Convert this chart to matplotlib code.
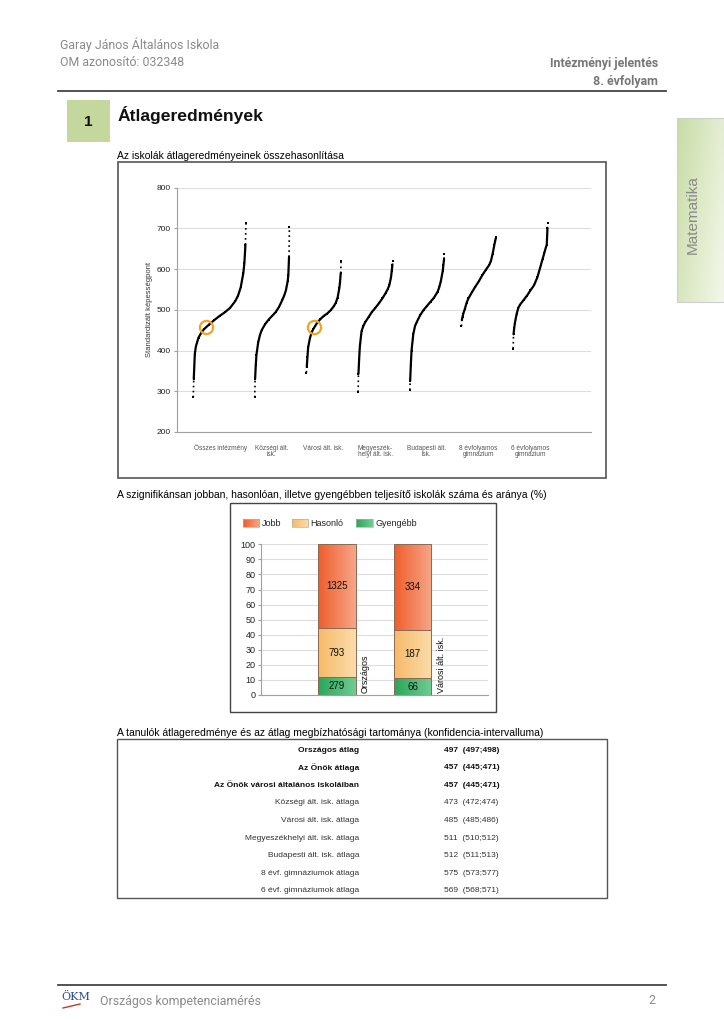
import numpy as np
import matplotlib
matplotlib.use("Agg")
import matplotlib.pyplot as plt
from matplotlib.patches import Rectangle
from matplotlib.colors import LinearSegmentedColormap

plt.rcParams['font.family'] = ['Liberation Sans', 'DejaVu Sans']

W, H = 724, 1024

# --- scatter: school averages sorted, read at percentile ranks ---
categories = ['Összes intézmény', 'Községi ált.\nisk.', 'Városi ált. isk.',
              'Megyeszék-\nhelyi ált. isk.', 'Budapesti ált.\nisk.',
              '8 évfolyamos\ngimnázium', '6 évfolyamos\ngimnázium']
percentiles = [0, 1, 3, 5, 10, 15, 20, 30, 40, 50, 60, 70, 80, 85, 90, 95, 97, 99, 100]
osszes = [285, 330, 392, 410, 432, 443, 452, 464, 475, 485, 494, 505, 522, 535, 555, 590, 615, 660, 714]
kozsegi = [285, 330, 365, 390, 420, 438, 450, 465, 476, 485, 494, 507, 525, 535, 548, 570, 585, 630, 704]
varosi = [346, 360, 385, 408, 430, 445, 453, 467, 477, 485, 491, 499, 510, 518, 530, 553, 568, 590, 620]
megyeszekhelyi = [298, 343, 380, 410, 448, 460, 469, 482, 495, 505, 516, 528, 542, 550, 560, 580, 595, 610, 621]
budapesti = [303, 325, 365, 400, 440, 460, 470, 487, 500, 510, 520, 530, 544, 555, 572, 595, 610, 625, 636]
gimn8 = [460, 475, 483, 490, 503, 518, 528, 543, 557, 570, 585, 598, 610, 620, 638, 660, 668, 676, 680]
gimn6 = [405, 440, 455, 468, 490, 505, 513, 524, 535, 548, 560, 580, 610, 625, 640, 655, 660, 700, 714]
curves = [osszes, kozsegi, varosi, megyeszekhelyi, budapesti, gimn8, gimn6]
school_mean = 457
highlight = [0, 2]

# --- stacked bars ---
bar_groups = ['Országos', 'Városi ált. isk.']
jobb = [1325, 334]
hasonlo = [793, 187]
gyengebb = [279, 66]

# --- table ---
table_labels = ['Országos átlag', 'Az Önök átlaga', 'Az Önök városi általános iskoláiban',
                'Községi ált. isk. átlaga', 'Városi ált. isk. átlaga',
                'Megyeszékhelyi ált. isk. átlaga', 'Budapesti ált. isk. átlaga',
                '8 évf. gimnáziumok átlaga', '6 évf. gimnáziumok átlaga']
table_means = [497, 457, 457, 473, 485, 511, 512, 575, 569]
ci_low = [497, 445, 445, 472, 485, 510, 511, 573, 568]
ci_high = [498, 471, 471, 474, 486, 512, 513, 577, 571]
bold_rows = 3

fig = plt.figure(figsize=(W / 100, H / 100), dpi=100)
page = fig.add_axes([0, 0, 1, 1])
page.set_xlim(0, W)
page.set_ylim(H, 0)
page.axis('off')


def px_axes(x0, y0, x1, y1):
    return fig.add_axes([x0 / W, 1 - y1 / H, (x1 - x0) / W, (y1 - y0) / H])


narrow = ['Roboto', 'DejaVu Sans']
grey = '#8a8a8a'

# header
page.text(60, 45, 'Garay János Általános Iskola', family=narrow, fontsize=8.9, color=grey, va='center')
page.text(60, 63, 'OM azonosító: 032348', family=narrow, fontsize=8.9, color=grey, va='center')
page.text(658, 63, 'Intézményi jelentés', family=narrow, fontsize=8.9, color='#777777',
          weight='bold', ha='right', va='center')
page.text(658, 81, '8. évfolyam', family=narrow, fontsize=8.9, color='#777777',
          weight='bold', ha='right', va='center')
page.plot([58, 666], [91, 91], color='#444444', lw=1.3)

# section title
page.add_patch(Rectangle((67, 100), 43, 42, facecolor='#c4d79c', edgecolor='none'))
page.text(88.5, 122, '1', fontsize=11, weight='bold', ha='center', va='center', color='#111111')
page.text(118, 115, 'Átlageredmények', fontsize=12.6, weight='bold', va='center', color='#111111')

# side tab
grad = np.linspace(0, 1, 64)
tab = np.outer(np.linspace(0.0, 0.35, 64), np.ones(32)) + np.outer(np.ones(64), np.linspace(0, 0.65, 32))
tab_cmap = LinearSegmentedColormap.from_list('tab', ['#c8dca6', '#f3f8ea'])
page.imshow(tab, cmap=tab_cmap, extent=[677, 724, 302, 118], aspect='auto', zorder=1)
page.add_patch(Rectangle((677, 118), 47, 184, facecolor='none', edgecolor='#cfcfcf', lw=0.8, zorder=2))
page.text(693, 215, 'Matematika', fontsize=11, rotation=90, color='#8a8a8a',
          ha='center', va='center', zorder=3)
page.set_xlim(0, W)
page.set_ylim(H, 0)

# subtitles
page.text(117, 156, 'Az iskolák átlageredményeinek összehasonlítása', fontsize=7.5, va='center')
page.text(117, 495, 'A szignifikánsan jobban, hasonlóan, illetve gyengébben teljesítő iskolák száma és aránya (%)',
          fontsize=7.5, va='center')
page.text(117, 733, 'A tanulók átlageredménye és az átlag megbízhatósági tartománya (konfidencia-intervalluma)',
          fontsize=7.5, va='center')

# frames
page.add_patch(Rectangle((118, 162), 487.7, 315.7, facecolor='none', edgecolor='#555555', lw=1.2))
page.add_patch(Rectangle((230, 503.3), 266, 208.4, facecolor='none', edgecolor='#444444', lw=1.0))
page.add_patch(Rectangle((116.7, 739), 490, 158.7, facecolor='none', edgecolor='#555555', lw=1.0))

# ---------------- scatter ----------------
ax = px_axes(176.7, 187.7, 590.7, 432)
ax.set_facecolor('none')
pct = np.array(percentiles) / 100.0
for k, vals in enumerate(curves):
    start, width = (-0.52, 1.02) if k == 0 else (-0.33, 0.67)
    xs = k + start + pct * width
    ys = np.array(vals)
    # sparse tails dotted, dense middle solid
    ax.plot(xs[:2], ys[:2], color='black', lw=1.2, ls=(0, (1, 2)), zorder=3)
    ax.plot(xs[-2:], ys[-2:], color='black', lw=1.2, ls=(0, (1, 2)), zorder=3)
    ax.plot(xs[1:-1], ys[1:-1], color='black', lw=1.6, solid_capstyle='round',
            solid_joinstyle='round', zorder=3)
    ax.plot(xs, ys, 's', color='black', ms=1.6, mew=0, zorder=3)
    if k in highlight:
        p = np.interp(school_mean, ys, pct)
        ax.plot(k + start + p * width, school_mean, 'o', mfc='none', mec='#f4a41e',
                ms=9.5, mew=1.6, zorder=4)
ax.set_xlim(-0.84, 7.17)
ax.set_ylim(200, 800)
ax.set_yticks(range(200, 801, 100))
ax.yaxis.grid(True, color='#dddddd', lw=0.8)
ax.set_axisbelow(True)
for s in ['top', 'right']:
    ax.spines[s].set_visible(False)
for s in ['left', 'bottom']:
    ax.spines[s].set_color('#a0a0a0')
    ax.spines[s].set_linewidth(0.8)
ax.tick_params(axis='y', length=2, color='#a0a0a0', labelsize=6, labelcolor='#222222', pad=2)
ax.set_xticks(range(len(categories)))
ax.set_xticklabels(categories, fontsize=4.7, color='#555555', linespacing=1.0)
ax.tick_params(axis='x', length=0, pad=9)
ax.set_ylabel('Standardizált képességpont', fontsize=5.5, color='#333333')
ax.yaxis.set_label_coords(-0.058, 0.5)

# ---------------- stacked bars ----------------
bx = px_axes(261, 544.3, 488.3, 695)
bx.set_facecolor('none')
counts = np.array([gyengebb, hasonlo, jobb], dtype=float)
shares = counts / counts.sum(axis=0) * 100
seg_colors = [('#2aa65c', '#70cc93'), ('#f6ba68', '#fbdcaa'), ('#ef5d2c', '#f6a787')]
xpos = np.arange(len(bar_groups))
bottom = np.zeros(len(bar_groups))
for i in range(3):
    bars = bx.bar(xpos, shares[i], 0.5, bottom=bottom, facecolor='none',
                  edgecolor='#8a6a55', lw=0.7, zorder=3)
    cmap = LinearSegmentedColormap.from_list('g%d' % i, seg_colors[i])
    for j, r in enumerate(bars):
        x0, y0, w, h = r.get_x(), r.get_y(), r.get_width(), r.get_height()
        bx.imshow(grad[None, :], cmap=cmap, extent=[x0, x0 + w, y0, y0 + h],
                  aspect='auto', zorder=2)
        bx.text(x0 + w / 2, y0 + h / 2, '%d' % counts[i, j], ha='center', va='center',
                fontsize=7, color='#111111', zorder=4)
    bottom += shares[i]
for j, name in enumerate(bar_groups):
    bx.text(xpos[j] + 0.38, 1.5, name, rotation=90, ha='center', va='bottom',
            fontsize=6.5, color='#111111')
bx.set_xlim(-1, 2)
bx.set_ylim(0, 100)
bx.set_yticks(range(0, 101, 10))
bx.set_xticks([])
bx.yaxis.grid(True, color='#dddddd', lw=0.8)
bx.set_axisbelow(True)
for s in ['top', 'right']:
    bx.spines[s].set_visible(False)
for s in ['left', 'bottom']:
    bx.spines[s].set_color('#a0a0a0')
    bx.spines[s].set_linewidth(0.8)
bx.tick_params(axis='y', length=2, color='#a0a0a0', labelsize=6.5, labelcolor='#222222', pad=2)

# legend (manual, matches the original layout)
leg_x = [242.7, 291.7, 356]
for i, name in enumerate(['Jobb', 'Hasonló', 'Gyengébb']):
    c = seg_colors[2 - i]
    cmap = LinearSegmentedColormap.from_list('l%d' % i, c)
    page.imshow(grad[None, :], cmap=cmap, extent=[leg_x[i], leg_x[i] + 16.6, 527, 519],
                aspect='auto', zorder=2)
    page.add_patch(Rectangle((leg_x[i], 519), 16.6, 8, facecolor='none', edgecolor='#b0b0b0',
                             lw=0.5, zorder=3))
    page.text(leg_x[i] + 19, 523, name, fontsize=6.5, va='center', color='#222222')
page.set_xlim(0, W)
page.set_ylim(H, 0)

# ---------------- table ----------------
row_y = 750 + np.arange(len(table_labels)) * 17.6
for i, lab in enumerate(table_labels):
    wgt = 'bold' if i < bold_rows else 'normal'
    col = '#111111' if i < bold_rows else '#333333'
    page.text(359.3, row_y[i], lab, ha='right', va='center', fontsize=6, weight=wgt, color=col)
    page.text(444.3, row_y[i], '%d  (%d;%d)' % (table_means[i], ci_low[i], ci_high[i]),
              ha='left', va='center', fontsize=6, weight=wgt, color=col)

# footer
page.plot([58, 666], [985, 985], color='#444444', lw=1.3)
page.text(61, 997, 'ÖKM', fontsize=8, family='DejaVu Serif', color='#2a4a8a', va='center')
page.plot([63, 80], [1008, 1004], color='#c0392b', lw=1.0)
page.text(100, 1001, 'Országos kompetenciamérés', family=narrow, fontsize=8.9, color=grey, va='center')
page.text(655, 1001, '2', family=narrow, fontsize=8.9, color=grey, va='center', ha='right')

fig.savefig('out.png', dpi=100)
